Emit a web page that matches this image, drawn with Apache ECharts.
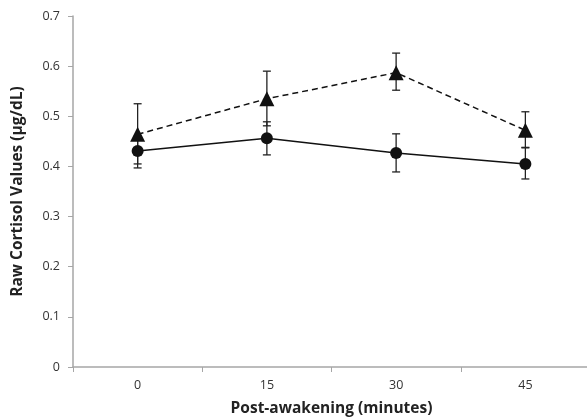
<!DOCTYPE html>
<html><head><meta charset="utf-8">
<script src="https://cdn.jsdelivr.net/npm/echarts@6/dist/echarts.min.js"></script>
<style>html,body{margin:0;padding:0;background:#fff}#c{width:587px;height:418px}</style>
</head><body><div id="c"></div>
<script>
var categories = ['0', '15', '30', '45'];
var triMean = [0.464, 0.535, 0.587, 0.472];
var triLow  = [0.405, 0.481, 0.552, 0.438];
var triHigh = [0.525, 0.590, 0.626, 0.509];
var cirMean = [0.431, 0.456, 0.427, 0.405];
var cirLow  = [0.397, 0.423, 0.389, 0.375];
var cirHigh = [0.460, 0.489, 0.465, 0.437];
var yTicks = [0, 0.1, 0.2, 0.3, 0.4, 0.5, 0.6, 0.7];

function errData(lo, hi) { return categories.map(function (c, i) { return [i, lo[i], hi[i]]; }); }
function errRender(params, api) {
  var x = api.value(0);
  var lo = api.coord([x, api.value(1)]);
  var hi = api.coord([x, api.value(2)]);
  var w = 4;
  var st = { stroke: '#222', lineWidth: 1.3 };
  return { type: 'group', children: [
    { type: 'line', shape: { x1: hi[0], y1: hi[1], x2: lo[0], y2: lo[1] }, style: st },
    { type: 'line', shape: { x1: hi[0] - w, y1: hi[1], x2: hi[0] + w, y2: hi[1] }, style: st },
    { type: 'line', shape: { x1: lo[0] - w, y1: lo[1], x2: lo[0] + w, y2: lo[1] }, style: st }
  ]};
}
var font = '"Open Sans", "Liberation Sans", sans-serif';
var chart = echarts.init(document.getElementById('c'));
chart.setOption({
  animation: false,
  grid: { left: 73, top: 16, right: -3, bottom: 51, containLabel: false, outerBoundsMode: 'none' },
  xAxis: {
    type: 'category', data: categories, boundaryGap: true,
    name: 'Post-awakening (minutes)', nameLocation: 'middle', nameGap: 34,
    nameTextStyle: { fontFamily: font, fontSize: 15.5, fontWeight: 'bold', color: '#222' },
    axisLine: { lineStyle: { color: '#a6a6a6', width: 1.5 } },
    axisTick: { show: true, alignWithLabel: false, length: 5, lineStyle: { color: '#a6a6a6' } },
    axisLabel: { fontFamily: font, fontSize: 12.5, color: '#333', margin: 12 },
    splitLine: { show: false }
  },
  yAxis: {
    type: 'value', min: 0, max: 0.7, interval: 0.1,
    name: 'Raw Cortisol Values (µg/dL)', nameLocation: 'middle', nameGap: 47, nameRotate: 90,
    nameTextStyle: { fontFamily: font, fontSize: 15.5, fontWeight: 'bold', color: '#222' },
    axisLine: { show: true, lineStyle: { color: '#a6a6a6', width: 1.5 } },
    axisTick: { show: true, length: 5, lineStyle: { color: '#a6a6a6' } },
    axisLabel: { fontFamily: font, fontSize: 12.5, color: '#333', margin: 13,
      formatter: function (v) { var t = yTicks.find(function (k) { return Math.abs(k - v) < 1e-9; }); return t === undefined ? '' : String(t); } },
    splitLine: { show: false }
  },
  series: [
    { type: 'custom', renderItem: errRender, data: errData(cirLow, cirHigh), z: 1, silent: true },
    { type: 'custom', renderItem: errRender, data: errData(triLow, triHigh), z: 1, silent: true },
    { type: 'line', data: cirMean, symbol: 'circle', symbolSize: 12, z: 3,
      lineStyle: { color: '#111', width: 1.5 }, itemStyle: { color: '#111' } },
    { type: 'line', data: triMean, symbol: 'triangle', symbolSize: 15, z: 3,
      lineStyle: { color: '#111', width: 1.5, type: [6, 4] }, itemStyle: { color: '#111' } }
  ]
});
</script></body></html>
